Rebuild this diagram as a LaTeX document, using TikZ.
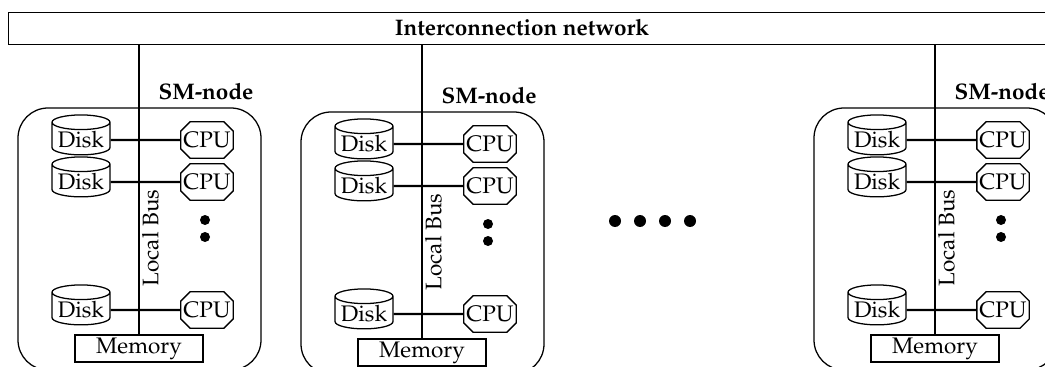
\documentclass[tikz,border=0pt]{standalone}
\usepackage[T1]{fontenc}
\usepackage{mathpazo}
\usetikzlibrary{shapes.geometric}

\begin{document}
\begin{tikzpicture}[x=0.025cm, y=-0.025cm, line width=0.9pt,
    every node/.style={font=\fontsize{16}{19}\selectfont}]
    \tikzstyle{disk}=[cylinder, shape border rotate=90, aspect=0.3, draw,
      minimum width=1.45cm, minimum height=0.75cm, inner sep=1pt]
    \tikzstyle{cpu}=[rectangle, minimum width=1.275cm, minimum height=0.875cm, inner sep=0pt]
    \tikzstyle{memory}=[rectangle, draw, minimum width=3.2cm, minimum height=0.68cm, inner sep=0pt]
    \tikzstyle{smbox}=[draw, rounded corners=0.75cm]
    \tikzstyle{bus}=[line width=2.1pt]
    \tikzstyle{link}=[line width=1.6pt]
    \tikzstyle{label}=[font=\fontsize{16}{19}\selectfont\bfseries]

    \useasboundingbox (0,0) rectangle (1045,367);
    \clip (0,0) rectangle (1045,367);

    % Draw the interconnection network
    \node[draw, rectangle, minimum width=26.5cm, minimum height=0.8cm,
      anchor=north west, inner sep=0pt] (net) at (8,12) {};
    \node[label] (net-label) at (522,28) {Interconnection network};

    % Draw the three SM-nodes
    \foreach \n/\dx/\dy in {1/0/0, 2/283/4, 3/796/0}
    {
      \begin{scope}[shift={(\dx,\dy)}]
        \draw[smbox] (18,108) rectangle (261,370);
        \node[label] (L-\n) at (206,92) {SM-node};

        % Draw the disks, the CPUs and the memory
        \foreach \k / \y in {1/140, 2/182, 3/310}
        {
          \node[disk] (D\n-\k) at (81,\y) {Disk};
          \node[cpu] (C\n-\k) at (207,\y) {CPU};
          \draw ([xshift=6.5pt]C\n-\k.north west) -- ([xshift=-6.5pt]C\n-\k.north east)
            -- ([yshift=-6.5pt]C\n-\k.north east) -- ([yshift=6.5pt]C\n-\k.south east)
            -- ([xshift=-6.5pt]C\n-\k.south east) -- ([xshift=6.5pt]C\n-\k.south west)
            -- ([yshift=6.5pt]C\n-\k.south west) -- ([yshift=-6.5pt]C\n-\k.north west) -- cycle;
        }
        \node[memory] (M-\n) at (139,348.5) {Memory};

        % Local bus
        \draw[bus] (M-\n.north) -- (M-\n.north |- net.south);
        \node[rotate=90, anchor=north, inner sep=1pt] (B-\n) at (140,238) {Local Bus};

        % Connect every disk with its CPU
        \foreach \k in {1,2,3}
          \draw[link] (D\n-\k.east) -- (C\n-\k.west);

        \fill (205,220) circle (5);
        \fill (205,237) circle (5);
      \end{scope}
    }

    % More SM-nodes
    \foreach \x in {615,640,665,690}
      \fill (\x,221) circle (6);
\end{tikzpicture}
\end{document}
